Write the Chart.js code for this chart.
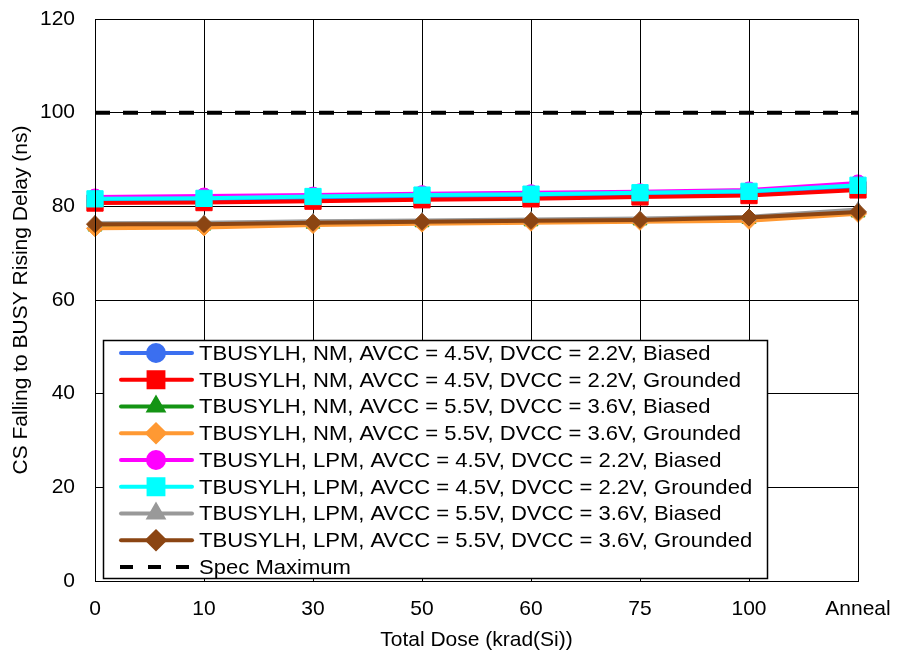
<!DOCTYPE html>
<html>
<head>
<meta charset="utf-8">
<script src="https://cdn.jsdelivr.net/npm/chart.js@4/dist/chart.umd.min.js"></script>
<style>
  html, body { margin: 0; padding: 0; background: #fff; }
  #wrap { width: 897px; height: 653px; position: relative; }
</style>
</head>
<body>
<div id="wrap"><canvas id="c" width="897" height="653"></canvas></div>
<script>
// Total dose steps along the x axis
const doseLabels = ['0', '10', '30', '50', '60', '75', '100', 'Anneal'];

// CS falling to BUSY rising delay (ns) per test condition
const nmAvcc45Biased     = [81.1, 81.2, 81.5, 81.8, 82.0, 82.3, 82.6, 84.0];
const nmAvcc45Grounded   = [80.7, 80.8, 81.1, 81.4, 81.6, 82.0, 82.3, 83.5];
const nmAvcc55Biased     = [75.6, 75.8, 76.2, 76.5, 76.7, 76.9, 77.2, 78.6];
const nmAvcc55Grounded   = [75.3, 75.5, 76.0, 76.3, 76.5, 76.7, 76.9, 78.4];
const lpmAvcc45Biased    = [82.0, 82.2, 82.4, 82.7, 82.9, 83.1, 83.5, 85.0];
const lpmAvcc45Grounded  = [81.6, 81.7, 82.1, 82.4, 82.6, 82.9, 83.2, 84.5];
const lpmAvcc55Biased    = [76.4, 76.5, 76.8, 77.0, 77.2, 77.4, 77.8, 79.3];
const lpmAvcc55Grounded  = [76.2, 76.2, 76.5, 76.7, 76.9, 77.1, 77.6, 78.8];
const specMaximum        = [100, 100, 100, 100, 100, 100, 100, 100];

const seriesNames = [
  'TBUSYLH, NM, AVCC = 4.5V, DVCC = 2.2V, Biased',
  'TBUSYLH, NM, AVCC = 4.5V, DVCC = 2.2V, Grounded',
  'TBUSYLH, NM, AVCC = 5.5V, DVCC = 3.6V, Biased',
  'TBUSYLH, NM, AVCC = 5.5V, DVCC = 3.6V, Grounded',
  'TBUSYLH, LPM, AVCC = 4.5V, DVCC = 2.2V, Biased',
  'TBUSYLH, LPM, AVCC = 4.5V, DVCC = 2.2V, Grounded',
  'TBUSYLH, LPM, AVCC = 5.5V, DVCC = 3.6V, Biased',
  'TBUSYLH, LPM, AVCC = 5.5V, DVCC = 3.6V, Grounded',
  'Spec Maximum'
];

const yTicks = [0, 20, 40, 60, 80, 100, 120];

const FONT = '"Liberation Sans", Arial, sans-serif';

function series(i, data, color, style, radius) {
  return {
    label: seriesNames[i],
    data: data,
    borderColor: color,
    backgroundColor: color,
    borderWidth: 4,
    pointStyle: style,
    pointRadius: radius,
    pointHoverRadius: radius,
    pointBorderWidth: 1,
    pointBorderColor: color,
    tension: 0,
    order: 20 - i
  };
}

const datasets = [
  series(0, nmAvcc45Biased, '#3b6ff0', 'circle', 8),
  series(1, nmAvcc45Grounded, '#ff0000', 'rect', 11.5),
  series(2, nmAvcc55Biased, '#149414', 'triangle', 8),
  series(3, nmAvcc55Grounded, '#ff9933', 'rectRot', 8.5),
  series(4, lpmAvcc45Biased, '#ff00ff', 'circle', 8),
  series(5, lpmAvcc45Grounded, '#00ffff', 'rect', 11.5),
  series(6, lpmAvcc55Biased, '#999999', 'triangle', 8),
  series(7, lpmAvcc55Grounded, '#8b4513', 'rectRot', 8.5),
  {
    label: seriesNames[8],
    data: specMaximum,
    borderColor: '#000000',
    backgroundColor: '#000000',
    borderWidth: 4,
    borderDash: [15, 13],
    pointRadius: 0,
    pointHoverRadius: 0,
    tension: 0,
    order: 0
  }
];

// Boxed legend drawn inside the plot area
const boxLegend = {
  id: 'boxLegend',
  afterDatasetsDraw(chart) {
    const ctx = chart.ctx;
    const left = 103, top = 340, right = 767, bottom = 578;
    ctx.save();
    ctx.fillStyle = '#ffffff';
    ctx.fillRect(left, top, right - left, bottom - top);
    ctx.strokeStyle = '#000000';
    ctx.lineWidth = 1.5;
    ctx.strokeRect(left + 0.5, top + 0.5, right - left, bottom - top);
    const rowH = 26.75;
    const y0 = 353;
    chart.data.datasets.forEach((ds, i) => {
      const y = y0 + i * rowH;
      ctx.beginPath();
      ctx.strokeStyle = ds.borderColor;
      ctx.lineWidth = ds.borderWidth;
      ctx.setLineDash(ds.borderDash ? [13, 15] : []);
      ctx.lineCap = ds.borderDash ? 'butt' : 'round';
      ctx.moveTo(ds.borderDash ? 120 : 121, y);
      ctx.lineTo(192, y);
      ctx.stroke();
      ctx.setLineDash([]);
      if (ds.pointRadius > 0) {
        const r = ds.pointStyle === 'rect' ? 10.5 : ds.pointRadius;
        Chart.helpers.drawPoint(ctx, {
          pointStyle: ds.pointStyle,
          radius: r,
          borderWidth: 1,
          rotation: 0
        }, 156, y);
        ctx.fillStyle = ds.backgroundColor;
        ctx.strokeStyle = ds.borderColor;
        ctx.fill();
      }
      ctx.save();
      ctx.translate(199, y + 1);
      ctx.scale(1.05, 1);
      ctx.fillStyle = '#000000';
      ctx.font = '21px ' + FONT;
      ctx.textBaseline = 'middle';
      ctx.textAlign = 'left';
      ctx.fillText(ds.label, 0, 0);
      ctx.restore();
    });
    ctx.restore();
  }
};

// Black frame around the plot area
const plotFrame = {
  id: 'plotFrame',
  afterDraw(chart) {
    const a = chart.chartArea;
    const ctx = chart.ctx;
    ctx.save();
    ctx.strokeStyle = '#000000';
    ctx.lineWidth = 1;
    ctx.strokeRect(Math.round(a.left) + 0.5, Math.round(a.top) + 0.5,
                   Math.round(a.right - a.left), Math.round(a.bottom - a.top));
    ctx.restore();
  }
};

function noScalePadding(scale) {
  scale.paddingTop = 0;
  scale.paddingBottom = 0;
  scale.paddingLeft = 0;
  scale.paddingRight = 0;
}

new Chart(document.getElementById('c'), {
  type: 'line',
  data: { labels: doseLabels, datasets: datasets },
  options: {
    responsive: false,
    animation: false,
    layout: { padding: { left: 0, right: 39, top: 19, bottom: 0 } },
    plugins: {
      legend: { display: false },
      tooltip: { enabled: false }
    },
    scales: {
      x: {
        type: 'category',
        offset: false,
        afterFit(scale) { scale.height = 72; noScalePadding(scale); },
        grid: { color: '#000000', lineWidth: 1, drawTicks: false },
        border: { display: true, color: '#000000' },
        ticks: {
          color: '#000000',
          font: { family: FONT, size: 21 },
          padding: 16,
          maxRotation: 0,
          autoSkip: false
        },
        title: {
          display: true,
          text: 'Total Dose (krad(Si))',
          color: '#000000',
          font: { family: FONT, size: 21 },
          padding: { top: 4, bottom: 0 }
        }
      },
      y: {
        min: 0,
        max: 120,
        afterFit(scale) { scale.width = 95; noScalePadding(scale); },
        afterBuildTicks(scale) { scale.ticks = yTicks.map(v => ({ value: v })); },
        grid: { color: '#000000', lineWidth: 1, drawTicks: false },
        border: { display: true, color: '#000000' },
        ticks: {
          color: '#000000',
          font: { family: FONT, size: 21 },
          padding: 20
        },
        title: {
          display: true,
          text: 'CS Falling to BUSY Rising Delay (ns)',
          color: '#000000',
          font: { family: FONT, size: 21 },
          padding: { top: 9, bottom: 8 }
        }
      }
    }
  },
  plugins: [boxLegend, plotFrame]
});
</script>
</body>
</html>
